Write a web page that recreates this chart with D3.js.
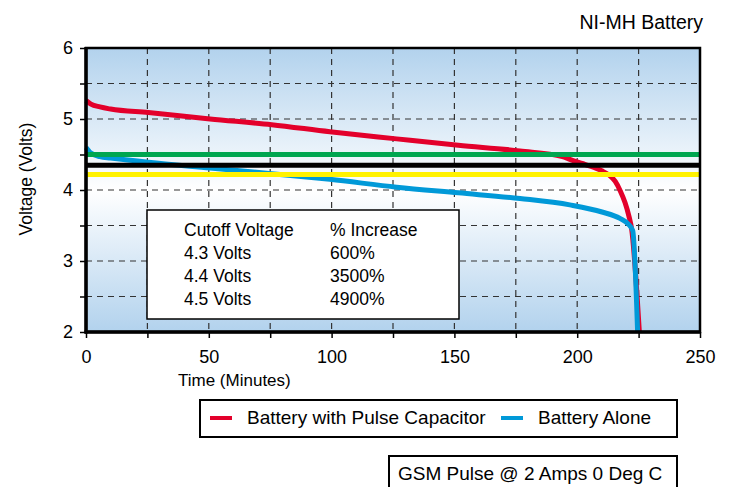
<!DOCTYPE html>
<html>
<head>
<meta charset="UTF-8">
<title>NI-MH Battery</title>
<style>
  body { margin: 0; background: #fff; }
  svg text { font-family: Arial, "Liberation Sans", sans-serif; fill: #000; }
  .grid line { stroke: #333; stroke-width: 1.2; stroke-dasharray: 6,5; }
  .axis text { font-size: 18px; }
  .axis line { stroke: #000; stroke-width: 1.5; }
  .axis path { display: none; }
</style>
</head>
<body>
<div id="chart"></div>
<script src="https://d3js.org/d3.v7.min.js"></script>
<script>
// data
const redTime  = [0, 2, 5.7, 10, 25.4, 50.5, 75.6, 99.3, 126.5, 151.6, 176.7, 194, 197, 202.4, 205, 210, 213, 215.5, 217.5, 219.5, 221, 222.2, 225.3];
const redVolt  = [5.26, 5.21, 5.17, 5.14, 5.09, 5.0, 4.92, 4.82, 4.72, 4.63, 4.55, 4.47, 4.43, 4.37, 4.34, 4.27, 4.21, 4.12, 3.99, 3.82, 3.64, 3.44, 2.0];
const blueTime = [0, 2, 5.7, 10, 25.4, 50.5, 75.6, 99.3, 126.5, 151.6, 176.7, 197, 210.1, 217.4, 220.8, 222.6, 224.6];
const blueVolt = [4.6, 4.52, 4.47, 4.45, 4.39, 4.31, 4.23, 4.15, 4.04, 3.96, 3.88, 3.79, 3.69, 3.6, 3.52, 3.43, 2.0];
const cutoffLevels = [4.5, 4.35, 4.22];
const cutoffColors = ["#00a650", "#000000", "#fff200"];
const xTicks = [0, 25, 50, 75, 100, 125, 150, 175, 200, 225, 250];
const yTicks = [2, 2.5, 3, 3.5, 4, 4.5, 5, 5.5, 6];
const tableHead = ["Cutoff Voltage", "% Increase"];
const tableVolts = ["4.3 Volts", "4.4 Volts", "4.5 Volts"];
const tableIncrease = ["600%", "3500%", "4900%"];
const seriesNames = ["Battery with Pulse Capacitor", "Battery Alone"];

const width = 729, height = 487;
const plotL = 86, plotR = 700, plotT = 48, plotB = 332;

const svg = d3.select("#chart").append("svg")
  .attr("width", width).attr("height", height);

const x = d3.scaleLinear().domain([0, 250]).range([plotL, plotR]);
const y = d3.scaleLinear().domain([2, 6]).range([plotB, plotT]);

// background gradient
const grad = svg.append("defs").append("linearGradient")
  .attr("id", "bg").attr("x1", 0).attr("y1", 0).attr("x2", 0).attr("y2", 1);
grad.append("stop").attr("offset", "0%").attr("stop-color", "#b2d2ed");
grad.append("stop").attr("offset", "50%").attr("stop-color", "#ffffff");
grad.append("stop").attr("offset", "100%").attr("stop-color", "#b2d2ed");

svg.append("rect")
  .attr("x", plotL).attr("y", plotT)
  .attr("width", plotR - plotL).attr("height", plotB - plotT)
  .attr("fill", "url(#bg)");

// dashed grid
const grid = svg.append("g").attr("class", "grid");
grid.selectAll(".gx").data(xTicks.filter(d => d > 0 && d < 250)).enter()
  .append("line")
  .attr("x1", d => x(d)).attr("x2", d => x(d))
  .attr("y1", plotT).attr("y2", plotB);
grid.selectAll(".gy").data(yTicks.filter(d => d > 2 && d < 6)).enter()
  .append("line")
  .attr("x1", plotL).attr("x2", plotR)
  .attr("y1", d => y(d)).attr("y2", d => y(d));

// curves
const line = d3.line().curve(d3.curveMonotoneX);
const redPts = redTime.map((t, i) => [x(t), y(redVolt[i])]);
const bluePts = blueTime.map((t, i) => [x(t), y(blueVolt[i])]);

svg.append("path").attr("d", line(redPts))
  .attr("fill", "none").attr("stroke", "#e3002b").attr("stroke-width", 5);
svg.append("path").attr("d", line(bluePts))
  .attr("fill", "none").attr("stroke", "#0099d8").attr("stroke-width", 5);

// cutoff lines
svg.selectAll(".cut").data(cutoffLevels).enter()
  .append("line")
  .attr("x1", plotL).attr("x2", plotR)
  .attr("y1", d => y(d)).attr("y2", d => y(d))
  .attr("stroke", (d, i) => cutoffColors[i])
  .attr("stroke-width", 5);

// frame
svg.append("rect")
  .attr("x", plotL).attr("y", plotT)
  .attr("width", plotR - plotL).attr("height", plotB - plotT)
  .attr("fill", "none").attr("stroke", "#000").attr("stroke-width", 2.5);
svg.append("line").attr("x1", plotL).attr("x2", plotL).attr("y1", plotT - 1).attr("y2", plotB + 1.5)
  .attr("stroke", "#000").attr("stroke-width", 3.5);
svg.append("line").attr("x1", plotL - 1.5).attr("x2", plotR + 1).attr("y1", plotB).attr("y2", plotB)
  .attr("stroke", "#000").attr("stroke-width", 3.5);

// axes
svg.append("g").attr("class", "axis")
  .attr("transform", `translate(0,${plotB})`)
  .call(d3.axisBottom(x).tickValues(xTicks).tickSize(6).tickPadding(12)
    .tickFormat(d => d % 50 === 0 ? d : ""));

svg.append("g").attr("class", "axis")
  .attr("transform", `translate(${plotL},0)`)
  .call(d3.axisLeft(y).tickValues(yTicks).tickSize(6).tickPadding(7)
    .tickFormat(d => Number.isInteger(d) ? d : ""));

// axis titles
svg.append("text")
  .attr("x", 178).attr("y", 386)
  .attr("font-size", 17)
  .text("Time (Minutes)");

svg.append("text")
  .attr("transform", "translate(32,179) rotate(-90)")
  .attr("text-anchor", "middle")
  .attr("font-size", 17.5)
  .text("Voltage (Volts)");

svg.append("text")
  .attr("x", 703).attr("y", 29)
  .attr("text-anchor", "end")
  .attr("font-size", 19.5)
  .text("NI-MH Battery");

// table box
svg.append("rect")
  .attr("x", 147).attr("y", 210).attr("width", 312).attr("height", 109)
  .attr("fill", "#fff").attr("stroke", "#000").attr("stroke-width", 1.5);

const rowY = [236, 259, 282, 305];
const tbl = svg.append("g").attr("font-size", 17.5);
tbl.selectAll(".c1").data([tableHead[0]].concat(tableVolts)).enter()
  .append("text").attr("x", 184).attr("y", (d, i) => rowY[i]).text(d => d);
tbl.selectAll(".c2").data([tableHead[1]].concat(tableIncrease)).enter()
  .append("text").attr("x", 330).attr("y", (d, i) => rowY[i]).text(d => d);

// legend
svg.append("rect")
  .attr("x", 200).attr("y", 400).attr("width", 477).attr("height", 37)
  .attr("fill", "#fff").attr("stroke", "#000").attr("stroke-width", 2);
const legColors = ["#e3002b", "#0099d8"];
const legX = [210, 501];
const leg = svg.append("g");
seriesNames.forEach((name, i) => {
  leg.append("line")
    .attr("x1", legX[i]).attr("x2", legX[i] + 22)
    .attr("y1", 418).attr("y2", 418)
    .attr("stroke", legColors[i]).attr("stroke-width", 4);
  leg.append("text")
    .attr("x", legX[i] + 37).attr("y", 424)
    .attr("font-size", 19)
    .text(name);
});

// condition box
svg.append("rect")
  .attr("x", 389).attr("y", 456).attr("width", 288).attr("height", 45)
  .attr("fill", "#fff").attr("stroke", "#000").attr("stroke-width", 2);
svg.append("text")
  .attr("x", 398).attr("y", 480)
  .attr("font-size", 19)
  .text("GSM Pulse @ 2 Amps 0 Deg C");
</script>
</body>
</html>
